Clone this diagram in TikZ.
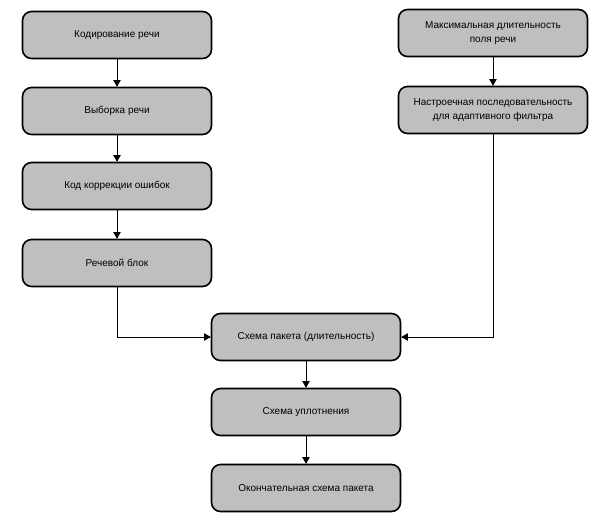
\documentclass[tikz,border=0pt]{standalone}
\usepackage{fontspec}
\setmainfont{Liberation Sans}
\usetikzlibrary{arrows}

\begin{document}
\begin{tikzpicture}[x=1pt,y=-1pt,
	blok/.style={draw,line width=1.6pt,rounded corners=9pt,fill=gray!50,minimum width=189pt,minimum height=47pt,align=center,font=\fontsize{10}{14}\selectfont},
	strel/.style={-triangle 60,line width=0.8pt}]
	\useasboundingbox (0,0) rectangle (600,523);
	\node [blok] (kod) at (117,35) {Кодирование речи};
	\node [blok] (vyb) at (117,111) {Выборка речи};
	\node [blok] (korr) at (117,186) {Код коррекции ошибок};
	\node [blok] (rech) at (117,263) {Речевой блок};
	\node [blok] (maks) at (493,33) {Максимальная длительность\\поля речи};
	\node [blok] (nastr) at (493,110) {Настроечная последовательность\\для адаптивного фильтра};
	\node [blok] (sxema) at (306,337) {Схема пакета (длительность)};
	\node [blok] (upl) at (306,412) {Схема уплотнения};
	\node [blok] (okon) at (306,488) {Окончательная схема пакета};
	\draw [strel] (kod) -- (vyb);
	\draw [strel] (vyb) -- (korr);
	\draw [strel] (korr) -- (rech);
	\draw [strel] (maks) -- (nastr);
	\draw [strel] (rech) |- (sxema);
	\draw [strel] (nastr) |- (sxema);
	\draw [strel] (sxema) -- (upl);
	\draw [strel] (upl) -- (okon);
\end{tikzpicture}
\end{document}
